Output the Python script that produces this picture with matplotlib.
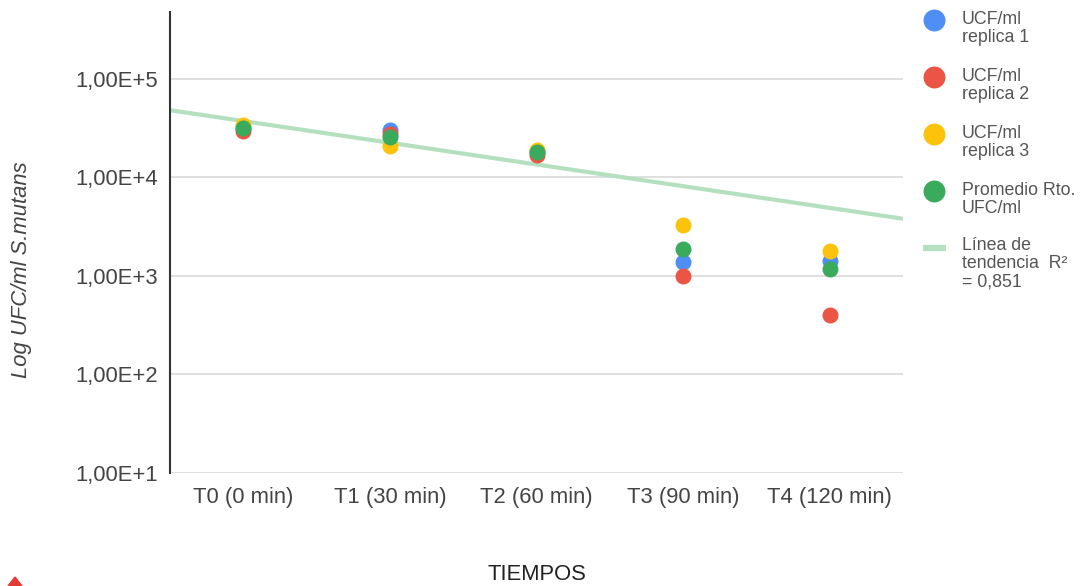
import numpy as np
import matplotlib
matplotlib.use('Agg')
import matplotlib.pyplot as plt
from matplotlib.lines import Line2D
from matplotlib.patches import Polygon

plt.rcParams['font.family'] = ['Liberation Sans', 'DejaVu Sans']

tiempos = ['T0 (0 min)', 'T1 (30 min)', 'T2 (60 min)', 'T3 (90 min)', 'T4 (120 min)']
replica1 = [3.2e4, 3.0e4, 1.8e4, 1.38e3, 1.4e3]
replica2 = [2.93e4, 2.73e4, 1.7e4, 1.0e3, 4.0e2]
replica3 = [3.37e4, 2.07e4, 1.9e4, 3.3e3, 1.78e3]
promedio = [3.15e4, 2.55e4, 1.81e4, 1.88e3, 1.17e3]
# trend line values read at the left and right edges of the plot
trend_x = [-0.5, 4.5]
trend_y = [4.8e4, 3.8e3]
y_ticks = [1e1, 1e2, 1e3, 1e4, 1e5]
y_labels = ['1,00E+1', '1,00E+2', '1,00E+3', '1,00E+4', '1,00E+5']

series = [
    ('UCF/ml\nreplica 1', replica1, '#4e8ef5'),
    ('UCF/ml\nreplica 2', replica2, '#ea5545'),
    ('UCF/ml\nreplica 3', replica3, '#fcc30a'),
    ('Promedio Rto.\nUFC/ml', promedio, '#3aaa5c'),
]
trend_color = '#b5e0c0'

fig = plt.figure(figsize=(10.82, 5.86), dpi=100)
W, H = 1082, 586
ax = fig.add_axes([170 / W, 1 - 473 / H, (903 - 170) / W, (473 - 12) / H])

x = np.arange(len(tiempos))
ax.plot(trend_x, trend_y, color=trend_color, lw=3, zorder=2, solid_capstyle='butt')
for name, vals, col in series:
    ax.plot(x, vals, 'o', color=col, ms=11.5, mec='none', zorder=3)

ax.set_yscale('log')
ax.set_ylim(10, 4.76e5)
ax.set_xlim(-0.5, 4.5)
ax.set_yticks(y_ticks)
ax.set_yticklabels(y_labels)
ax.yaxis.set_minor_locator(matplotlib.ticker.NullLocator())
ax.set_xticks(x)
ax.set_xticklabels(tiempos)
ax.tick_params(axis='both', length=0, labelsize=15.8, labelcolor='#444444')
ax.tick_params(axis='y', pad=8.5)
ax.tick_params(axis='x', pad=10)
ax.grid(axis='y', color='#d9d9d9', lw=1.2)
ax.set_axisbelow(True)
for s in ['top', 'right', 'bottom']:
    ax.spines[s].set_visible(False)
ax.spines['left'].set_color('#333333')
ax.spines['left'].set_linewidth(1.5)

fig.text(22 / W, 1 - 270 / H, 'Log UFC/ml S.mutans', rotation=90, style='italic',
         fontsize=15.8, color='#444444', ha='center', va='center')
fig.text(537 / W, 1 - 575 / H, 'TIEMPOS', fontsize=15.8, color='#222222',
         ha='center', va='center')

# legend
leg_y = [20, 77, 134, 191]
for (name, vals, col), yy in zip(series, leg_y):
    fig.add_artist(Line2D([934 / W], [1 - yy / H], marker='o', color=col, ms=15.8, mec='none'))
    fig.text(962 / W, 1 - (yy - 9) / H, name, fontsize=12.8, color='#555555',
             va='top', ha='left', linespacing=1.1)
fig.add_artist(Line2D([923 / W, 946 / W], [1 - 248 / H] * 2, color=trend_color, lw=4.5,
                      solid_capstyle='butt'))
fig.text(962 / W, 1 - (248 - 11) / H, 'Línea de\ntendencia  R²\n= 0,851', fontsize=12.8,
         color='#555555', va='top', ha='left', linespacing=1.1)

fig.add_artist(Polygon([[8 / W, 0], [22 / W, 0], [15 / W, 9 / H]], closed=True,
                       color='#e53935', transform=fig.transFigure))

fig.savefig('out.png', dpi=100)
